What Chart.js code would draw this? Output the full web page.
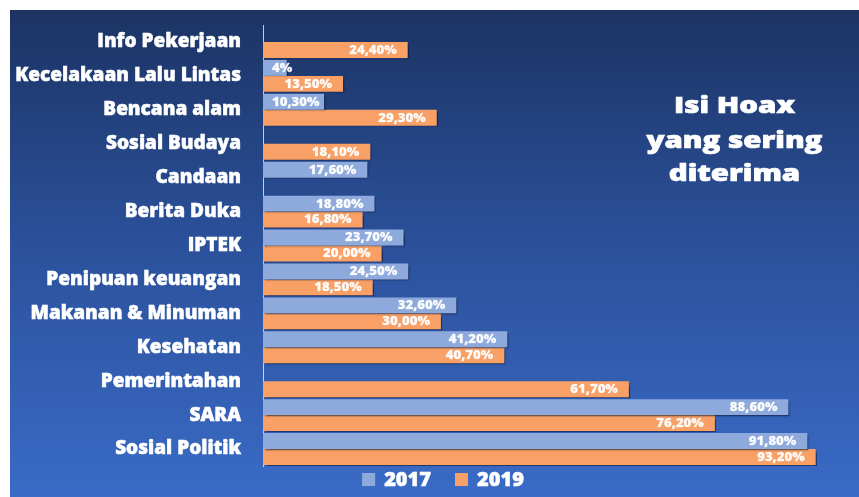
<!DOCTYPE html>
<html><head><meta charset="utf-8">
<script src="https://cdn.jsdelivr.net/npm/chart.js@4.4.1/dist/chart.umd.min.js"></script>
<style>
html,body{margin:0;padding:0;background:#fff;overflow:hidden;}
#wrap{position:absolute;left:10px;top:10px;width:849px;height:487px;background:linear-gradient(180deg,#1c3363 0%,#2a4f98 45%,#3a6bc6 100%);}
canvas{display:block;}
</style></head><body>
<div id="wrap"><canvas id="c" width="849" height="487"></canvas></div>
<script>
const categories = ['Info Pekerjaan','Kecelakaan Lalu Lintas','Bencana alam','Sosial Budaya','Candaan','Berita Duka','IPTEK','Penipuan keuangan','Makanan & Minuman','Kesehatan','Pemerintahan','SARA','Sosial Politik'];
const values2017 = [null, 4, 10.3, null, 17.6, 18.8, 23.7, 24.5, 32.6, 41.2, null, 88.6, 91.8];
const values2019 = [24.4, 13.5, 29.3, 18.1, null, 16.8, 20.0, 18.5, 30.0, 40.7, 61.7, 76.2, 93.2];
const labels2017 = [null,'4%','10,30%',null,'17,60%','18,80%','23,70%','24,50%','32,60%','41,20%',null,'88,60%','91,80%'];
const labels2019 = ['24,40%','13,50%','29,30%','18,10%',null,'16,80%','20,00%','18,50%','30,00%','40,70%','61,70%','76,20%','93,20%'];
const seriesNames = ['2017','2019'];
const titleLines = ['Isi Hoax','yang sering','diterima'];

const FONT = '"Open Sans", "DejaVu Sans", sans-serif';
const W = '800';
const colors = ['#8eaadc', '#f9a066'];
const dataLabels = [labels2017, labels2019];

const deco = {
  id: 'deco',
  beforeDatasetsDraw(chart) {
    const ctx = chart.ctx;
    ctx.save();
    ctx.shadowColor = 'rgba(10,20,50,0.55)';
    ctx.shadowOffsetX = 1.5;
    ctx.shadowOffsetY = 1.5;
    ctx.shadowBlur = 1.5;
  },
  afterDatasetsDraw(chart) {
    const ctx = chart.ctx;
    ctx.restore();
    ctx.save();
    ctx.font = W + ' 12px ' + FONT;
    ctx.fillStyle = 'rgba(255,255,255,0.96)';
    ctx.strokeStyle = 'rgba(255,255,255,0.5)';
    ctx.lineWidth = 0.3;
    ctx.textAlign = 'right';
    ctx.textBaseline = 'middle';
    const sx = 1.1;
    chart.data.datasets.forEach((ds, i) => {
      const meta = chart.getDatasetMeta(i);
      meta.data.forEach((bar, j) => {
        const txt = dataLabels[i][j];
        if (ds.data[j] == null || !txt) return;
        const w = ctx.measureText(txt).width * sx;
        const xr = Math.max(bar.x - 11, bar.base + 9 + w);
        ctx.save();
        ctx.translate(xr, bar.y + 0.5);
        ctx.scale(sx, 1);
        ctx.fillText(txt, 0, 0);
        ctx.strokeText(txt, 0, 0);
        ctx.restore();
      });
    });
    ctx.restore();
  },
  afterDraw(chart) {
    const ctx = chart.ctx;
    ctx.save();
    ctx.fillStyle = '#ffffff';
    ctx.strokeStyle = '#ffffff';
    ctx.lineWidth = 0.7;
    ctx.textAlign = 'center';
    ctx.textBaseline = 'alphabetic';
    ctx.font = W + ' 23px ' + FONT;
    const baselines = [103, 137.5, 171];
    titleLines.forEach((t, k) => {
      ctx.save();
      ctx.translate(724.5, baselines[k]);
      ctx.scale(1.28, 1);
      ctx.fillText(t, 0, 0);
      ctx.strokeText(t, 0, 0);
      ctx.restore();
    });
    ctx.font = W + ' 20px ' + FONT;
    ctx.textAlign = 'left';
    ctx.lineWidth = 0.5;
    const box = 13, gapBT = 9, gapItems = 24;
    const items = chart.data.datasets.map(d => ({text: d.label, color: d.backgroundColor, w: ctx.measureText(d.label).width}));
    let total = 0;
    items.forEach((it, k) => { total += box + gapBT + it.w + (k < items.length - 1 ? gapItems : 0); });
    let x = 433 - total / 2;
    items.forEach(it => {
      ctx.fillStyle = it.color;
      ctx.fillRect(x, 463, box, box);
      ctx.fillStyle = '#ffffff';
      ctx.fillText(it.text, x + box + gapBT, 476);
      ctx.strokeText(it.text, x + box + gapBT, 476);
      x += box + gapBT + it.w + gapItems;
    });
    ctx.restore();
  }
};

function build() {
  new Chart(document.getElementById('c'), {
    type: 'bar',
    data: {
      labels: categories,
      datasets: [
        {label: seriesNames[0], data: values2017, backgroundColor: colors[0], borderWidth: 0, categoryPercentage: 0.94, barPercentage: 1},
        {label: seriesNames[1], data: values2019, backgroundColor: colors[1], borderWidth: 0, categoryPercentage: 0.94, barPercentage: 1}
      ]
    },
    options: {
      indexAxis: 'y',
      responsive: false,
      animation: false,
      layout: {padding: {top: 15, bottom: 31, left: 0, right: 3}},
      plugins: {legend: {display: false}, tooltip: {enabled: false}, title: {display: false}},
      scales: {
        x: {display: false, min: 0, max: 100},
        y: {
          grid: {display: false, drawTicks: false},
          border: {display: true, color: 'rgba(235,240,255,0.8)', width: 1},
          ticks: {color: '#ffffff', font: {family: FONT, weight: W, size: 19}, padding: 22, autoSkip: false,
                  textStrokeColor: '#ffffff', textStrokeWidth: 0.5},
          afterFit(s) { s.width = 253; s.paddingTop = 0; s.paddingBottom = 0; }
        }
      }
    },
    plugins: [deco]
  });
}
if (document.fonts && document.fonts.load) {
  Promise.all([document.fonts.load(W + ' 20px "Open Sans"'), document.fonts.load(W + ' 12px "Open Sans"'), document.fonts.load(W + ' 23px "Open Sans"')]).then(build, build);
} else { build(); }
</script>
</body></html>
